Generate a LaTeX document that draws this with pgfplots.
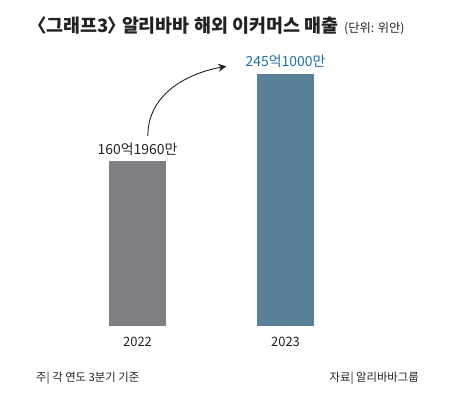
\documentclass[border=0pt]{standalone}
\usepackage{pgfplots}
\pgfplotsset{compat=1.18}
\usepackage{fontspec}
\setmainfont{Noto Sans CJK KR}
\usetikzlibrary{arrows.meta}
\definecolor{bargray}{HTML}{7F7F83}
\definecolor{barblue}{HTML}{5A7F99}
\definecolor{lblblue}{HTML}{1F6FA3}
\definecolor{txt}{HTML}{222222}
\begin{document}
\begin{tikzpicture}
\path[use as bounding box] (0,0) rectangle (456bp,397bp);
\begin{axis}[
  at={(63.5bp,71bp)}, anchor=south west,
  scale only axis, width=296bp, height=252bp,
  xmin=-0.5, xmax=1.5, ymin=0, ymax=245.1,
  axis lines=none, clip=false,
  xtick={0,1}, xticklabels={2022,2023}, ytick=\empty,
  major tick length=0pt,
  ybar, bar width=57bp, bar shift=0pt,
  point meta=explicit symbolic,
  nodes near coords={\pgfplotspointmeta},
  nodes near coords style={anchor=base, yshift=7bp, inner sep=0pt, font=\fontsize{14}{16}\selectfont},
]
\addplot[fill=bargray, draw=none, nodes near coords style={text=txt}] coordinates {(0,160.196) [160억1960만]};
\addplot[fill=barblue, draw=none, nodes near coords style={text=lblblue}] coordinates {(1,245.1) [245억1000만]};
\node[anchor=base, text=txt, font=\fontsize{13}{15}\selectfont] at (axis cs:0,0) [yshift=-21bp] {2022};
\node[anchor=base, text=txt, font=\fontsize{13}{15}\selectfont] at (axis cs:1,0) [yshift=-21bp] {2023};
\draw[line width=0.9bp, txt, -{Stealth[length=8bp,width=8bp]}] (axis cs:0.07,185) to[out=90,in=190] (axis cs:0.60,252.5);
\end{axis}
\node[anchor=base west, text=txt, inner sep=0pt, font=\bfseries\fontsize{18.5}{22}\selectfont] at (38bp,364bp) {\kern-0.5em〈\kern-0.05em 그래프3\kern-0.05em〉\kern-0.45em\ 알리바바 해외 이커머스 매출};
\node[anchor=base west, text=txt, inner sep=0pt, font=\fontsize{12.3}{15}\selectfont] at (344bp,364bp) {(단위: 위안)};
\node[anchor=base west, text=txt, inner sep=0pt, font=\fontsize{11.4}{14}\selectfont] at (36bp,16bp) {주| 각 연도 3분기 기준};
\node[anchor=base east, text=txt, inner sep=0pt, font=\fontsize{11.4}{14}\selectfont] at (419bp,16bp) {자료| 알리바바그룹};
\end{tikzpicture}
\end{document}
